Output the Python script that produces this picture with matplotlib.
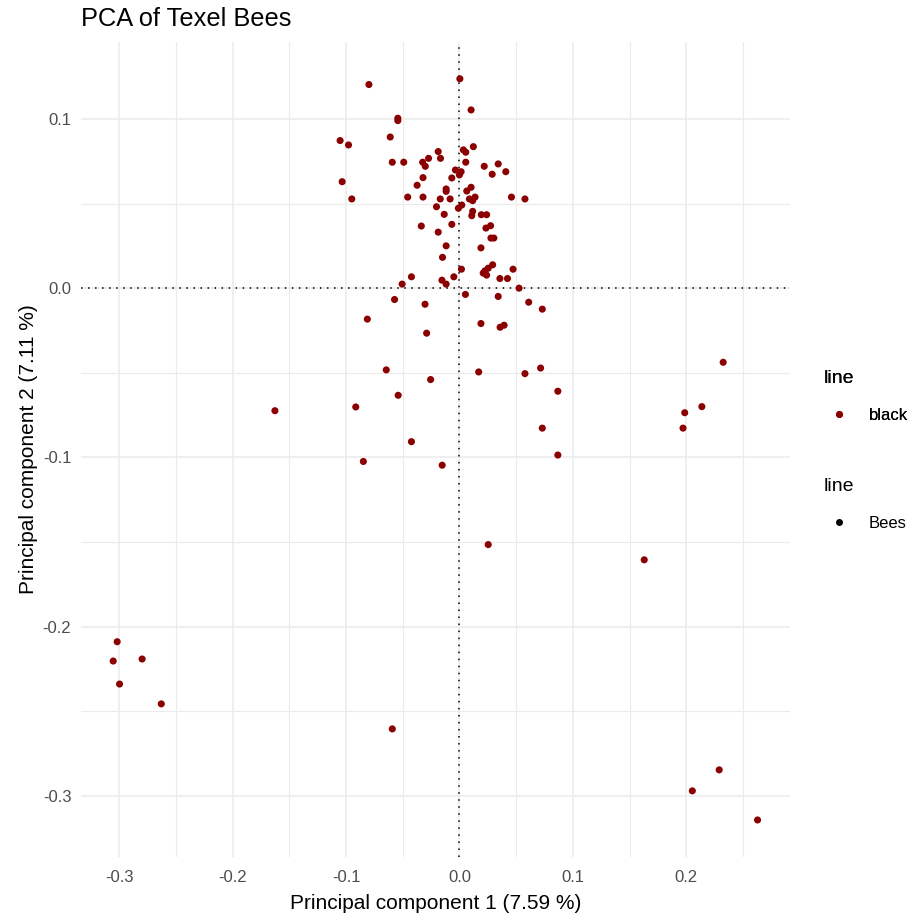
# PCA of Texel Bees - recriação do gráfico de dispersão
import matplotlib.pyplot as plt
import numpy as np

plt.rcParams['font.family'] = ['Liberation Sans', 'DejaVu Sans']

# componentes principais (PC1, PC2)
pc1 = [-0.0798, 0.0004, 0.0103, -0.0543, -0.0543, -0.1052, -0.0978, -0.0610,
       0.0035, 0.0056, 0.0123, -0.0187, -0.0167, -0.0592, -0.0491, -0.0324,
       -0.0272, -0.0301, 0.0056, 0.0219, 0.0342, 0.0289, 0.0409, -0.0035,
       0.0015, 0.0000, -0.0067, -0.0321, -0.1034, -0.0373, -0.0117, -0.0117,
       0.0103, 0.0065, -0.0949, -0.0456, -0.0321, -0.0169, -0.0082, 0.0088,
       0.0138, 0.0117, 0.0459, 0.0578, -0.0202, -0.0009, 0.0021, -0.0134,
       0.0117, 0.0109, 0.0193, 0.0240, -0.0336, -0.0067, -0.0187, 0.0234,
       0.0275, 0.0278, 0.0304, -0.0117, 0.0190, -0.0149, 0.0018, 0.0293,
       0.0254, 0.0225, 0.0210, 0.0240, 0.0473, -0.0423, -0.0049, -0.0154,
       -0.0117, -0.0505, 0.0357, 0.0424, 0.0526, 0.0053, -0.0572, 0.0342,
       0.0611, -0.0303, 0.0731, -0.0812, 0.0190, 0.0359, 0.0394, -0.0289,
       -0.1627, -0.0645, -0.0254, -0.0540, -0.0914, -0.0423, -0.0847, -0.0152,
       0.0170, 0.0578, 0.0716, 0.0868, 0.0731, 0.0868, 0.0254, 0.2326,
       0.2138, 0.1987, 0.1972, 0.1630, -0.3018, -0.3053, -0.2798, -0.2997,
       -0.2629, -0.0592, 0.2291, 0.2054, 0.2629]

pc2 = [0.1203, 0.1237, 0.1053, 0.1004, 0.0990, 0.0872, 0.0846, 0.0893,
       0.0817, 0.0803, 0.0836, 0.0807, 0.0767, 0.0744, 0.0744, 0.0744,
       0.0767, 0.0720, 0.0744, 0.0720, 0.0734, 0.0673, 0.0688, 0.0698,
       0.0688, 0.0669, 0.0651, 0.0653, 0.0629, 0.0608, 0.0586, 0.0572,
       0.0596, 0.0574, 0.0527, 0.0538, 0.0538, 0.0527, 0.0527, 0.0527,
       0.0538, 0.0517, 0.0538, 0.0527, 0.0481, 0.0472, 0.0491, 0.0436,
       0.0454, 0.0428, 0.0434, 0.0434, 0.0367, 0.0377, 0.0331, 0.0355,
       0.0369, 0.0296, 0.0296, 0.0250, 0.0238, 0.0182, 0.0112, 0.0138,
       0.0118, 0.0102, 0.0089, 0.0077, 0.0112, 0.0067, 0.0067, 0.0047,
       0.0024, 0.0024, 0.0057, 0.0057, 0.0000, -0.0037, -0.0067, -0.0049,
       -0.0083, -0.0095, -0.0124, -0.0183, -0.0209, -0.0231, -0.0219, -0.0266,
       -0.0724, -0.0483, -0.0540, -0.0633, -0.0702, -0.0907, -0.1024, -0.1046,
       -0.0495, -0.0505, -0.0472, -0.0609, -0.0827, -0.0986, -0.1515, -0.0438,
       -0.0700, -0.0736, -0.0827, -0.1605, -0.2089, -0.2203, -0.2191, -0.2339,
       -0.2456, -0.2604, -0.2846, -0.2970, -0.3142]

var1 = 7.59
var2 = 7.11
xticks = [-0.3, -0.2, -0.1, 0.0, 0.1, 0.2]
yticks = [-0.3, -0.2, -0.1, 0.0, 0.1]

cor_ponto = '#8b0000'
cinza_grade = '#ebebeb'

fig = plt.figure(figsize=(9.11, 9.17), dpi=100)
ax = fig.add_axes([0.0889, 0.0654, 0.778, 0.8891])

# grade (principal e secundária)
ax.set_xticks(xticks)
ax.set_yticks(yticks)
ax.set_xticks([-0.25, -0.15, -0.05, 0.05, 0.15, 0.25], minor=True)
ax.set_yticks([-0.25, -0.15, -0.05, 0.05], minor=True)
ax.grid(which='major', color=cinza_grade, linewidth=1.1, zorder=0)
ax.grid(which='minor', color=cinza_grade, linewidth=0.8, zorder=0)
ax.set_axisbelow(True)

# linhas pontilhadas nos eixos zero
ax.axhline(0, color='black', linewidth=1.1, linestyle=(0, (1, 3.6)), zorder=1)
ax.axvline(0, color='black', linewidth=1.1, linestyle=(0, (1, 3.6)), zorder=1)

ax.scatter(pc1, pc2, s=26, color=cor_ponto, edgecolors='none', zorder=3)

# expansão de 5% como no ggplot
dx = (max(pc1) - min(pc1)) * 0.05
dy = (max(pc2) - min(pc2)) * 0.05
ax.set_xlim(min(pc1) - dx, max(pc1) + dx)
ax.set_ylim(min(pc2) - dy, max(pc2) + dy)

ax.set_xticklabels(['-0.3', '-0.2', '-0.1', '0.0', '0.1', '0.2'])
ax.set_yticklabels(['-0.3', '-0.2', '-0.1', '0.0', '0.1'])
ax.tick_params(which='both', length=0, labelsize=12, labelcolor='#4d4d4d')
ax.tick_params(axis='x', pad=9)
ax.tick_params(axis='y', pad=7)
for s in ax.spines.values():
  s.set_visible(False)

ax.set_xlabel('Principal component 1 (%.2f %%)' % var1, fontsize=15, labelpad=6.5)
ax.set_ylabel('Principal component 2 (%.2f %%)' % var2, fontsize=15, labelpad=3)
fig.text(0.089, 0.979, 'PCA of Texel Bees', fontsize=18.3, ha='left', va='center')

# legendas
h1 = plt.Line2D([], [], marker='o', linestyle='none', color=cor_ponto, markersize=4)
h2 = plt.Line2D([], [], marker='o', linestyle='none', color='black', markersize=4)
opcoes = dict(loc='upper left', frameon=False, fontsize=12, title_fontsize=14,
              alignment='left', handlelength=1.85, handletextpad=0.85,
              labelspacing=1.25, borderpad=0, borderaxespad=0)
leg1 = fig.legend([h1], ['black'], title='line',
                  bbox_to_anchor=(0.9045, 0.5965), **opcoes)
fig.add_artist(leg1)
leg2 = fig.legend([h2], ['Bees'], title='line',
                  bbox_to_anchor=(0.9045, 0.4787), **opcoes)

plt.savefig('out.png', dpi=100, facecolor='white')
